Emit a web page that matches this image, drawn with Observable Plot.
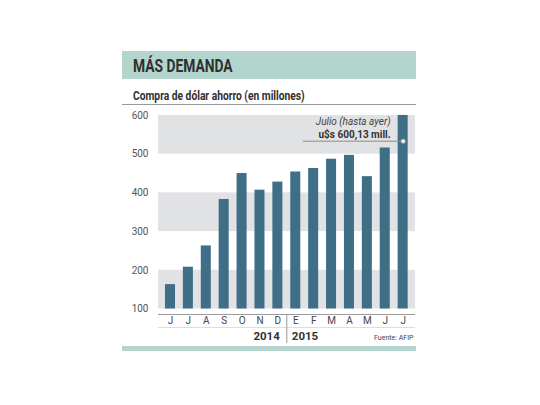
<!DOCTYPE html>
<html>
<head>
<meta charset="utf-8">
<script src="https://cdn.jsdelivr.net/npm/d3@7"></script>
<script src="https://cdn.jsdelivr.net/npm/@observablehq/plot@0.6"></script>
<style>
  html, body { margin: 0; padding: 0; background: #fff; }
  body { width: 540px; height: 405px; position: relative; overflow: hidden;
         font-family: "Roboto", "Liberation Sans", sans-serif; }
  #header { position: absolute; left: 122px; top: 51px; width: 294px; height: 28px; background: #b3d5cd; }
  #title { position: absolute; left: 133px; top: 56px; font-size: 17.5px; font-weight: bold; color: #2f2f2f; transform: scaleX(0.79); transform-origin: left top; white-space: nowrap; }
  #subtitle { position: absolute; left: 133px; top: 88px; font-size: 12.5px; font-weight: bold; color: #2f2f2f; transform: scaleX(0.82); transform-origin: left top; white-space: nowrap; }
  #subline { position: absolute; left: 122px; top: 104px; width: 294px; height: 1px; background: #9a9a9a; }
  #chart { position: absolute; left: 120px; top: 105px; }
  #footer { position: absolute; left: 122px; top: 346px; width: 294px; height: 5px; background: #b3d5cd; }
</style>
</head>
<body>
<div id="header"></div>
<div id="title">MÁS DEMANDA</div>
<div id="subtitle">Compra de dólar ahorro (en millones)</div>
<div id="subline"></div>
<div id="chart"></div>
<div id="footer"></div>
<script>
const months = ["J","J","A","S","O","N","D","E","F","M","A","M","J","J"];
const values = [163, 208, 263, 383, 450, 407, 428, 454, 463, 487, 497, 442, 516, 600.13];
const yTicks = [100, 200, 300, 400, 500, 600];
const bands = [[100, 200], [300, 400], [500, 600]];
const yearLabels = ["2014", "2015"];
const noteLines = ["Julio (hasta ayer)", "u$s 600,13 mill."];
const source = "Fuente: AFIP";

const data = months.map((m, i) => ({i, m, v: values[i]}));
const half = 0.28;
const split = 6.5;
const font = '"Roboto", sans-serif';

const chart = Plot.plot({
  width: 300,
  height: 240,
  marginLeft: 38,
  marginRight: 5,
  marginTop: 10,
  marginBottom: 36.5,
  style: {fontFamily: font, background: "transparent", overflow: "visible"},
  x: {domain: [-0.67, 13.69], axis: null},
  y: {domain: [100, 600], axis: null},
  marks: [
    Plot.rect(bands, {y1: d => d[0], y2: d => d[1], fill: "#e1e2e4"}),
    Plot.rectY(data, {x1: d => d.i - half, x2: d => d.i + half, y1: 100, y2: "v", fill: "#3f6f87"}),
    Plot.axisY({ticks: yTicks, label: null, tickSize: 0, tickPadding: 10, fontSize: 10, color: "#555", tickFormat: d => d}),
    Plot.ruleY([100], {dy: 5.5, stroke: "#9a9a9a", strokeWidth: 1}),
    Plot.ruleY([100], {dy: 18.5, stroke: "#dedede", strokeWidth: 1}),
    Plot.axisX({ticks: data.map(d => d.i), label: null, tickFormat: i => months[i], tickSize: 0, tickPadding: 8, fontSize: 10, color: "#444"}),
    Plot.ruleX([split], {y1: 85.8, y2: 10.9, stroke: "#9a9a9a", strokeWidth: 1}),
    Plot.text([yearLabels[0]], {x: split, y: 100, textAnchor: "end", dx: -7, dy: 27, fontSize: 11.5, fontWeight: "bold", fill: "#333"}),
    Plot.text([yearLabels[1]], {x: split, y: 100, textAnchor: "start", dx: 5, dy: 27, fontSize: 11.5, fontWeight: "bold", fill: "#333"}),
    Plot.text([source], {x: 13.69, y: 100, textAnchor: "end", dx: -2, dy: 29, fontSize: 7, fill: "#444"}),
    Plot.ruleY([533.6], {x1: 7.43, x2: 13, stroke: "#8a8a8a", strokeWidth: 1}),
    Plot.dot([data[13]], {x: "i", y: 533.6, r: 2.3, fill: "#fff", stroke: "#8a8a8a", strokeWidth: 1}),
    Plot.text([noteLines[0]], {x: 12.3, y: 533.6, dy: -19, textAnchor: "end", fontSize: 10, fontStyle: "italic", fill: "#444"}),
    Plot.text([noteLines[1]], {x: 12.3, y: 533.6, dy: -6, textAnchor: "end", fontSize: 10, fontWeight: "bold", fill: "#333"})
  ]
});
document.getElementById("chart").appendChild(chart);
</script>
</body>
</html>
